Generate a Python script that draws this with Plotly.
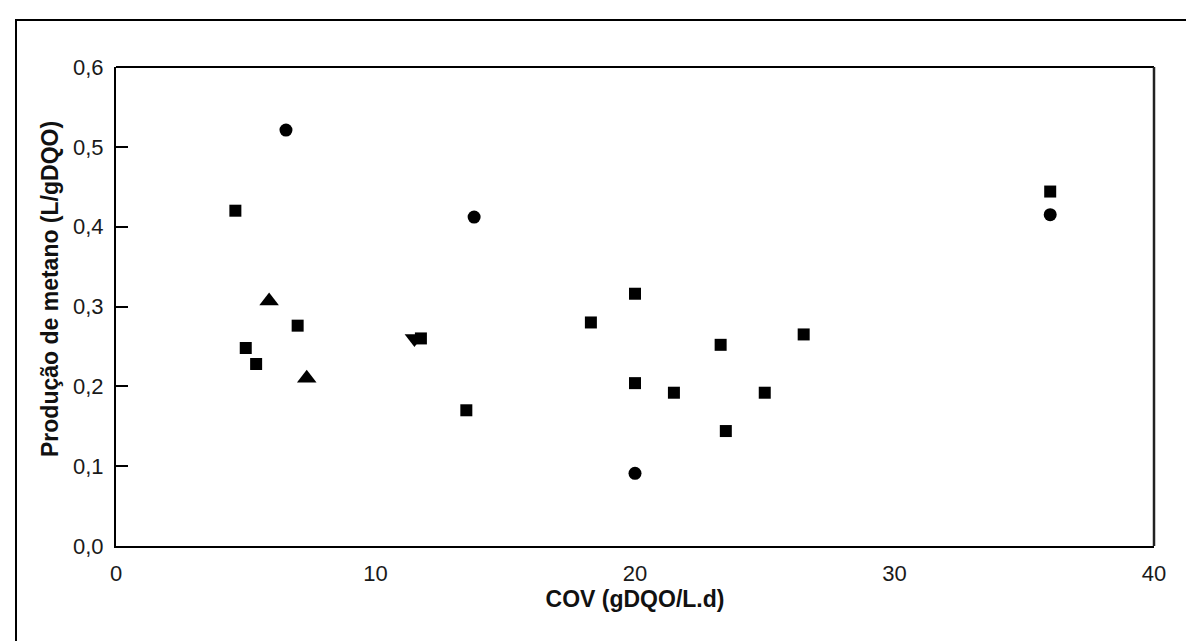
import plotly.graph_objects as go

# Data
sq_x = [4.6, 5.0, 5.4, 7.0, 11.75, 13.5, 18.3, 20.0, 20.0, 21.5, 23.3, 23.5, 25.0, 26.5, 36.0]
sq_y = [0.42, 0.248, 0.228, 0.276, 0.26, 0.17, 0.28, 0.316, 0.204, 0.192, 0.252, 0.144, 0.192, 0.265, 0.444]
ci_x = [6.55, 13.8, 20.0, 36.0]
ci_y = [0.521, 0.412, 0.091, 0.415]
tu_x = [5.9, 7.35]
tu_y = [0.307, 0.21]
td_x = [11.5]
td_y = [0.26]

ytick_vals = [0.0, 0.1, 0.2, 0.3, 0.4, 0.5, 0.6]
ytick_text = ["0,0", "0,1", "0,2", "0,3", "0,4", "0,5", "0,6"]
xtick_vals = [0, 10, 20, 30, 40]
xtick_text = ["0", "10", "20", "30", "40"]

W, H = 1194, 641
L, R, T, B = 108, 1146, 59, 538

fig = go.Figure()
fig.add_trace(go.Scatter(x=sq_x, y=sq_y, mode="markers",
                         marker=dict(symbol="square", size=12, color="black")))
fig.add_trace(go.Scatter(x=ci_x, y=ci_y, mode="markers",
                         marker=dict(symbol="circle", size=13, color="black")))
fig.add_trace(go.Scatter(x=tu_x, y=tu_y, mode="markers",
                         marker=dict(symbol="triangle-up", size=17, color="black")))
fig.add_trace(go.Scatter(x=td_x, y=td_y, mode="markers",
                         marker=dict(symbol="triangle-down", size=17, color="black")))

pw = R - L
ph = B - T
def px(xp):
    return (xp - L) / pw
def py(yp):
    return (B - yp) / ph

shapes = [
    # outer border
    dict(type="rect", xref="paper", yref="paper",
         x0=px(8), x1=px(1191), y0=py(638), y1=py(12),
         line=dict(color="black", width=2), layer="below"),
    # top frame line
    dict(type="line", xref="paper", yref="paper", x0=0, x1=1, y0=1, y1=1,
         line=dict(color="black", width=2)),
    # right frame line
    dict(type="line", xref="paper", yref="paper", x0=1, x1=1, y0=0, y1=1,
         line=dict(color="#222222", width=2.5)),
]

annotations = [
    dict(text="<b>Produção de metano (L/gDQO)</b>", textangle=-90,
         xref="paper", x=px(42), xanchor="center",
         yref="paper", y=py(281), yanchor="middle",
         showarrow=False, font=dict(size=23, color="#111111")),
]

fig.update_layout(
    width=W, height=H,
    margin=dict(l=L, r=W - R, t=T, b=H - B),
    paper_bgcolor="white", plot_bgcolor="white",
    showlegend=False,
    font=dict(family="Liberation Sans, Arial, sans-serif", color="#1a1a1a", size=22),
    shapes=shapes,
    annotations=annotations,
    xaxis=dict(range=[0, 40], tickvals=xtick_vals, ticktext=xtick_text,
               showgrid=False, zeroline=False, showline=True, linecolor="black",
               linewidth=2, ticks="", ticklabelstandoff=7,
               title=dict(text="<b>COV (gDQO/L.d)</b>", standoff=5,
                          font=dict(size=23, color="#111111"))),
    yaxis=dict(range=[0, 0.6], tickvals=ytick_vals, ticktext=ytick_text,
               showgrid=False, zeroline=False, showline=True, linecolor="black",
               linewidth=2, ticks="inside", ticklen=12, tickwidth=2, tickcolor="black",
               ticklabelstandoff=6),
)

fig.write_html("out.html")
